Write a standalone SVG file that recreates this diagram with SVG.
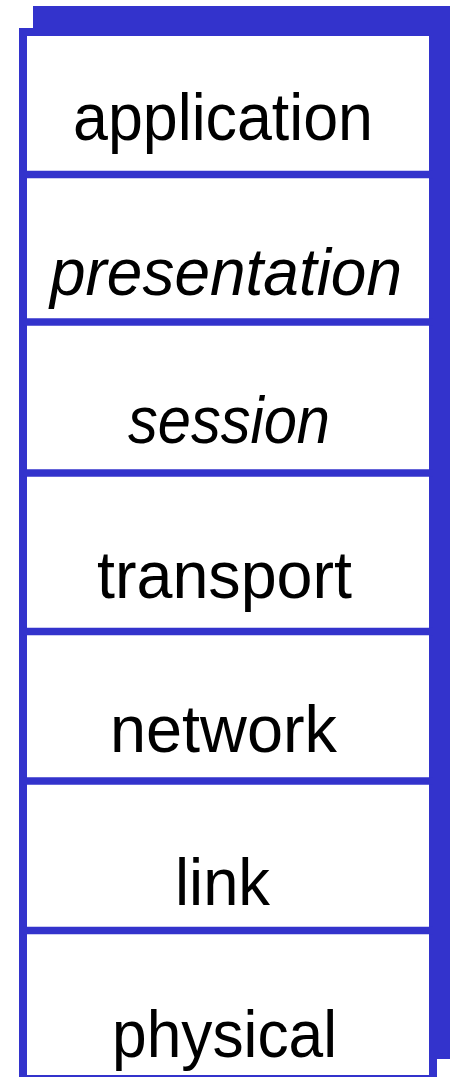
<svg xmlns="http://www.w3.org/2000/svg" width="452" height="1077" viewBox="0 0 452 1077">
<style>
.blue{fill:#3333cc}
.frame{fill:#ffffff;stroke:#3333cc;stroke-width:8}
.div{stroke:#3333cc;stroke-width:7.5}
.t{font-family:"Liberation Sans",Arial,sans-serif;font-size:67px;fill:#000000}
.i{font-style:italic}
</style>
<rect id="shadow" class="blue" x="33" y="6" width="417" height="1053"/>
<rect id="frame" class="frame" x="23" y="32" width="410" height="1047"/>
<g id="connectors">
<line class="div" x1="23" y1="174.5" x2="433" y2="174.5"/>
<line class="div" x1="23" y1="322" x2="433" y2="322"/>
<line class="div" x1="23" y1="473" x2="433" y2="473"/>
<line class="div" x1="23" y1="631.5" x2="433" y2="631.5"/>
<line class="div" x1="23" y1="781" x2="433" y2="781"/>
<line class="div" x1="23" y1="930.5" x2="433" y2="930.5"/>
</g>
<g id="application"><text class="t" x="73" y="140" textLength="300" lengthAdjust="spacingAndGlyphs">application</text></g>
<g id="presentation"><text class="t i" x="50" y="295" textLength="352" lengthAdjust="spacingAndGlyphs">presentation</text></g>
<g id="session"><text class="t i" x="128" y="443" textLength="202" lengthAdjust="spacingAndGlyphs">session</text></g>
<g id="transport"><text class="t" x="97" y="598" textLength="255" lengthAdjust="spacingAndGlyphs">transport</text></g>
<g id="network"><text class="t" x="110" y="752" textLength="227" lengthAdjust="spacingAndGlyphs">network</text></g>
<g id="link"><text class="t" x="175" y="905" textLength="95" lengthAdjust="spacingAndGlyphs">link</text></g>
<g id="physical"><text class="t" x="112" y="1057" textLength="225" lengthAdjust="spacingAndGlyphs">physical</text></g>
</svg>
